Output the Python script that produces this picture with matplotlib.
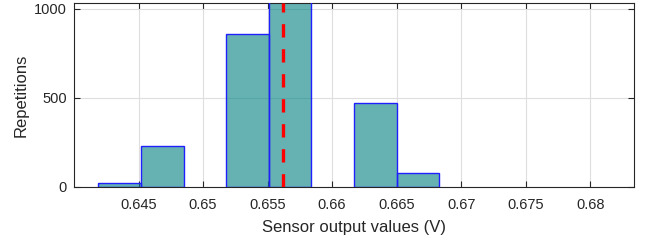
import numpy as np
import matplotlib
matplotlib.use("Agg")
import matplotlib.pyplot as plt
from matplotlib.ticker import FuncFormatter

# Data
bin_edges = [0.64189, 0.64519, 0.64849, 0.65179, 0.65509, 0.65839, 0.66169, 0.66499, 0.66829]
counts = [22, 227, 0, 856, 1180, 0, 471, 76]
mean_value = 0.65621
x_ticks = [0.645, 0.65, 0.655, 0.66, 0.665, 0.67, 0.675, 0.68]
y_ticks = [0, 500, 1000]

plt.rcParams['font.family'] = ['Liberation Sans', 'DejaVu Sans']
txt = '#262626'

fig = plt.figure(figsize=(6.45, 2.44), dpi=100)
ax = fig.add_axes([74/645, 57/244, (634-74)/645, (187-3)/244])

edges = np.array(bin_edges)
cnt = np.array(counts)
nz = cnt > 0
lefts = edges[:-1][nz]
widths = np.diff(edges)[nz]
ax.bar(lefts, cnt[nz], width=widths, align='edge',
       color=(0, 0.5, 0.5), alpha=0.6, edgecolor='none', zorder=2)
ax.bar(lefts, cnt[nz], width=widths, align='edge',
       facecolor='none', edgecolor='#2020ff', linewidth=1.0, zorder=3)
ax.axvline(mean_value, color='#ff0000', linestyle=(0, (4, 3.5)), linewidth=2.4, zorder=4)

ax.set_xlim(0.64, 0.68339)
ax.set_ylim(0, 1031)
ax.set_xticks(x_ticks)
ax.set_yticks(y_ticks)
ax.xaxis.set_major_formatter(FuncFormatter(lambda v, p: f"{v:g}"))
ax.grid(True, color='#dedede', linewidth=0.8, zorder=0)
ax.set_axisbelow(True)
ax.tick_params(direction='in', length=4, width=0.8, colors=txt, labelsize=10.5,
               top=True, right=True)
ax.tick_params(axis='x', pad=8)
ax.tick_params(axis='y', pad=5)
for s in ax.spines.values():
    s.set_color(txt)
    s.set_linewidth(0.8)
ax.set_xlabel('Sensor output values (V)', fontsize=12, color=txt, labelpad=6)
ax.set_ylabel('Repetitions', fontsize=12, color=txt, labelpad=4)

fig.savefig('out.png', dpi=100)
